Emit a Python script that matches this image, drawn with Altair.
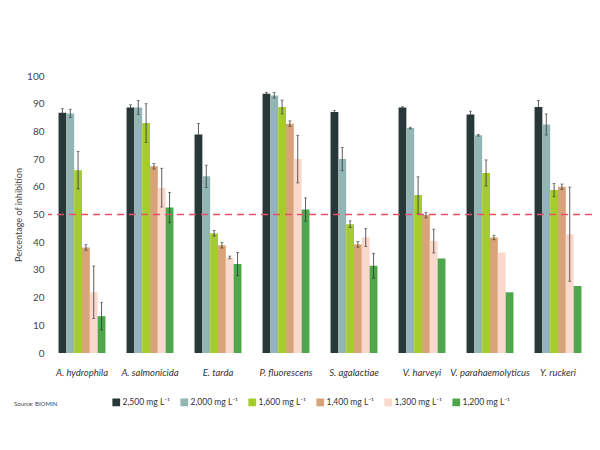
import altair as alt
import pandas as pd

species = ["A. hydrophila", "A. salmonicida", "E. tarda", "P. fluorescens",
           "S. agalactiae", "V. harveyi", "V. parahaemolyticus", "Y. ruckeri"]
doses = ["2,500 mg L⁻¹", "2,000 mg L⁻¹", "1,600 mg L⁻¹",
         "1,400 mg L⁻¹", "1,300 mg L⁻¹", "1,200 mg L⁻¹"]
colors = ["#283838", "#93b5b5", "#a6cc2c", "#d9a37a", "#fbd8cc", "#4ea74a"]
y_ticks = [0, 10, 20, 30, 40, 50, 60, 70, 80, 90, 100]

v2500 = [86.7, 88.6, 78.9, 93.6, 87.0, 88.6, 86.1, 88.8]
v2000 = [86.5, 88.6, 63.8, 93.0, 70.0, 81.2, 78.6, 82.5]
v1600 = [66.0, 83.0, 43.2, 88.8, 46.5, 57.0, 65.0, 58.8]
v1400 = [38.1, 67.4, 38.9, 82.8, 39.2, 49.8, 41.7, 60.0]
v1300 = [21.9, 59.7, 34.5, 70.0, 41.7, 40.4, 36.3, 42.9]
v1200 = [13.3, 52.5, 32.1, 51.8, 31.5, 34.1, 21.9, 24.2]

e2500 = [1.5, 1.0, 4.0, 0.5, 0.5, 0.3, 1.2, 2.4]
e2000 = [1.5, 2.5, 4.0, 1.0, 4.2, 0.3, 0.3, 3.8]
e1600 = [6.8, 7.0, 1.0, 2.5, 1.2, 6.6, 4.7, 2.4]
e1400 = [1.0, 1.0, 1.0, 1.0, 1.0, 1.0, 0.8, 1.0]
e1300 = [9.5, 7.0, 0.5, 8.6, 3.3, 4.3, None, 17.0]
e1200 = [5.0, 5.5, 4.2, 4.2, 4.5, None, None, None]

values = [v2500, v2000, v1600, v1400, v1300, v1200]
errors = [e2500, e2000, e1600, e1400, e1300, e1200]

rows = []
for d, vals, errs in zip(doses, values, errors):
    for s, v, e in zip(species, vals, errs):
        rows.append({"species": s, "dose": d, "value": v,
                     "lo": None if e is None else v - e,
                     "hi": None if e is None else v + e})
df = pd.DataFrame(rows)
err_df = df.dropna(subset=["lo"])

x_axis = alt.Axis(labelAngle=0, domain=False, ticks=False, labelPadding=14,
                  labelFontStyle="italic", labelFontSize=9.5, labelColor="#333",
                  labelFont="Lato", labelLimit=200)
x_scale = alt.Scale(paddingInner=0.31, paddingOuter=0.155)
y_axis = alt.Axis(values=y_ticks, grid=False, domain=False, ticks=False,
                  labelOverlap=False,
                  labelPadding=4, labelFontSize=10, labelColor="#444", labelFont="Lato",
                  titleFontSize=9, titleFontWeight="normal", titleColor="#444",
                  titleFont="Lato", titlePadding=3)
y_scale = alt.Scale(domain=[0, 100])
y_title = "Percentage of inhibition"

def X():
    return alt.X("species:N", sort=species, title=None, scale=x_scale, axis=x_axis)

def Y(field):
    return alt.Y(field, title=y_title, scale=y_scale, axis=y_axis)

xoff = alt.XOffset("dose:N", sort=doses, scale=alt.Scale(paddingInner=0, paddingOuter=0))

bars = alt.Chart(df).mark_bar().encode(
    x=X(),
    xOffset=xoff,
    y=Y("value:Q"),
    color=alt.Color("dose:N", sort=doses, scale=alt.Scale(domain=doses, range=colors),
                    legend=alt.Legend(title=None, orient="none", direction="horizontal",
                                      columns=6, legendX=64, legendY=322,
                                      symbolType="square", symbolSize=60,
                                      symbolStrokeWidth=0, labelFontSize=8.5,
                                      labelColor="#333", labelFont="Lato",
                                      columnPadding=10, labelOffset=2)),
)

rules = alt.Chart(err_df).mark_rule(color="#333", strokeWidth=0.8).encode(
    x=X(), xOffset=xoff, y=Y("lo:Q"), y2="hi:Q")
caps_lo = alt.Chart(err_df).mark_tick(color="#333", size=3, thickness=0.8).encode(
    x=X(), xOffset=xoff, y=Y("lo:Q"))
caps_hi = alt.Chart(err_df).mark_tick(color="#333", size=3, thickness=0.8).encode(
    x=X(), xOffset=xoff, y=Y("hi:Q"))

ref = alt.Chart(pd.DataFrame({"y": [50]})).mark_rule(
    color="#e8506a", strokeDash=[7, 5], strokeWidth=1.6).encode(y=Y("y:Q"))

source = alt.Chart(pd.DataFrame({"t": ["Source: BIOMIN"]})).mark_text(
    align="left", baseline="middle", fontSize=6, color="#444", font="Lato").encode(
    text="t:N", x=alt.value(-34), y=alt.value(328))

chart = alt.layer(bars, rules, caps_lo, caps_hi, ref, source).properties(
    width=544, height=277,
    autosize=alt.AutoSizeParams(type="none"),
    padding={"left": 40, "top": 68, "right": 0, "bottom": 90},
).configure_view(stroke=None).configure_scale(bandPaddingInner=0)

chart.save("out.html", embed_options={"renderer": "svg", "actions": False})
